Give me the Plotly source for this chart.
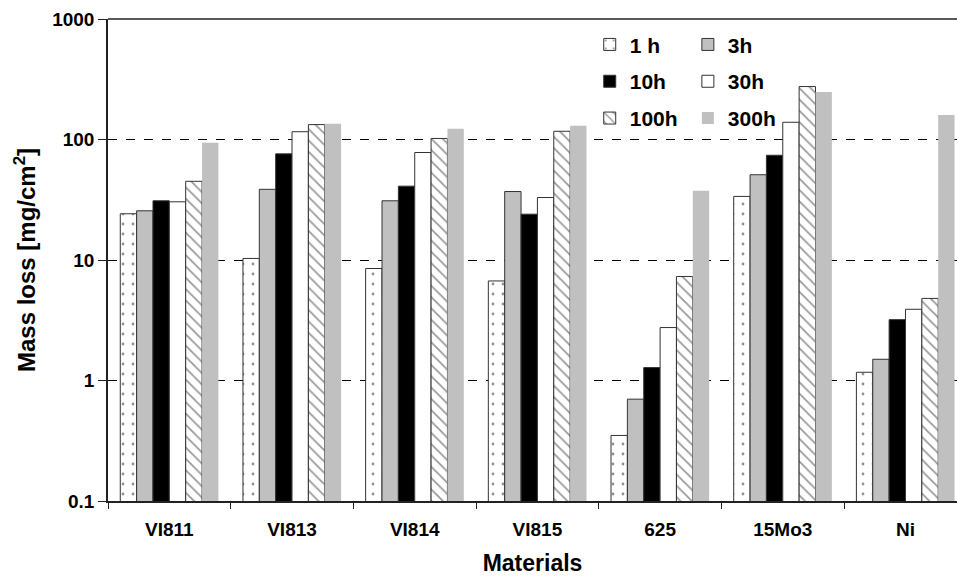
import plotly.graph_objects as go

materials = ["VI811", "VI813", "VI814", "VI815", "625", "15Mo3", "Ni"]
series_names = ["1 h", "3h", "10h", "30h", "100h", "300h"]

v_1h = [24.2, 10.3, 8.5, 6.7, 0.35, 33.7, 1.17]
v_3h = [25.6, 38.6, 31.0, 37.0, 0.70, 51.0, 1.5]
v_10h = [31.0, 76.0, 41.0, 24.0, 1.28, 74.0, 3.2]
v_30h = [30.4, 116.0, 78.0, 33.0, 2.75, 139.0, 3.9]
v_100h = [45.0, 133.0, 102.0, 117.0, 7.3, 275.0, 4.8]
v_300h = [94.0, 135.0, 123.0, 130.0, 37.5, 248.0, 160.0]

y_tickvals = [0.1, 1, 10, 100, 1000]
y_ticktext = ["0.1", "1", "10", "100", "1000"]

FONT = "Liberation Sans, Arial, sans-serif"
OUT = "#333333"

styles = [
    dict(color="white", line=dict(color=OUT, width=1),
         pattern=dict(shape=".", size=10, solidity=0.06, fgcolor="#222222", bgcolor="white", fillmode="overlay")),
    dict(color="#c0c0c0", line=dict(color=OUT, width=1)),
    dict(color="black", line=dict(color=OUT, width=1)),
    dict(color="white", line=dict(color=OUT, width=1)),
    dict(color="white", line=dict(color=OUT, width=1),
         pattern=dict(shape="\\", size=8, solidity=0.22, fgcolor="#333333", bgcolor="white", fillmode="overlay")),
    dict(color="#c0c0c0", line=dict(color="#c0c0c0", width=0)),
]
values = [v_1h, v_3h, v_10h, v_30h, v_100h, v_300h]
legends = ["legend", "legend2", "legend", "legend2", "legend", "legend2"]

fig = go.Figure()
for i, (name, vals) in enumerate(zip(series_names, values)):
    fig.add_trace(go.Bar(
        x=materials, y=vals, name=name, marker=styles[i],
        legend=legends[i], legendgroup=name,
    ))

leg_common = dict(
    font=dict(family=FONT, size=21, color="black", weight="bold"),
    bgcolor="rgba(0,0,0,0)", borderwidth=0,
    tracegroupgap=6.5, itemwidth=30, yanchor="top", xanchor="left",
    orientation="v",
)
fig.update_layout(
    width=957, height=576,
    margin=dict(l=108, r=0, t=19, b=75),
    paper_bgcolor="white", plot_bgcolor="white",
    barmode="group", bargap=0.2, bargroupgap=0,
    font=dict(family=FONT, color="black"),
    legend=dict(x=0.5674, y=0.989, **leg_common),
    legend2=dict(x=0.683, y=0.989, **leg_common),
    showlegend=True,
)
fig.update_xaxes(
    range=[-0.5, 6.42], showline=True, linecolor="#222222", linewidth=1.5,
    ticks="outside", tickson="boundaries", ticklen=6, tickcolor="#222222",
    ticklabelstandoff=10,
    tickfont=dict(family=FONT, size=19, color="black", weight="bold"),
    showgrid=False,
    title=dict(text="Materials", standoff=17,
               font=dict(family=FONT, size=23, color="black", weight="bold")),
)
fig.update_yaxes(
    type="log", range=[-1, 3], tickvals=y_tickvals, ticktext=y_ticktext,
    showline=True, linecolor="#222222", linewidth=1.5,
    ticks="outside", ticklen=8, tickcolor="#222222",
    tickfont=dict(family=FONT, size=19, color="black", weight="bold"),
    showgrid=True, gridcolor="black", gridwidth=1, griddash="dash",
    zeroline=False,
    title=dict(text="Mass loss [mg/cm<sup>2</sup>]", standoff=10,
               font=dict(family=FONT, size=24, color="black", weight="bold")),
)
fig.add_shape(type="line", xref="paper", yref="paper", x0=0, x1=1, y0=1, y1=1,
              line=dict(color="#222222", width=1.5))

fig.write_html("out.html", config={"displayModeBar": False},
               post_script="document.body.style.margin='0px';")
